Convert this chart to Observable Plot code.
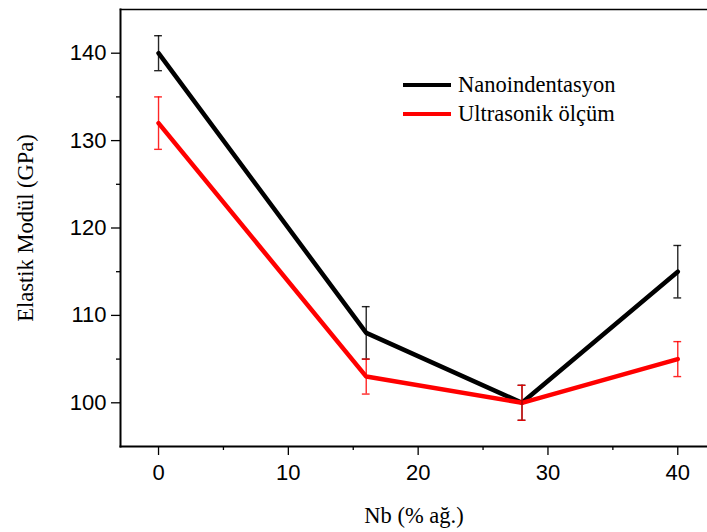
<!DOCTYPE html>
<html>
<head>
<meta charset="utf-8">
<script src="https://cdn.jsdelivr.net/npm/d3@7"></script>
<script src="https://cdn.jsdelivr.net/npm/@observablehq/plot@0.6"></script>
<style>
  body { margin: 0; background: #fff; }
  #wrap { position: relative; width: 707px; height: 532px; }
  #legend { position: absolute; left: 403px; top: 70px; font-family: "Liberation Serif", serif; font-size: 22.5px; color: #000; }
  .item { display: flex; align-items: center; height: 29px; }
  .sw { width: 48px; height: 0; border-top: 4.5px solid; margin-right: 7px; }
</style>
</head>
<body>
<div id="wrap"></div>
<script>
const nb = [0, 16, 28, 40];
const nanoValues = [140, 108, 100, 115];
const nanoErr = [2, 3, 2, 3];
const ultraValues = [132, 103, 100, 105];
const ultraErr = [3, 2, 2, 2];
const seriesNames = ["Nanoindentasyon", "Ultrasonik ölçüm"];
const seriesColors = ["#000000", "#ff0000"];
const xMajorTicks = [0, 10, 20, 30, 40];
const xMinorTicks = [5, 15, 25, 35];
const yMajorTicks = [100, 110, 120, 130, 140];
const yMinorTicks = [105, 115, 125, 135];

const data = [];
[[nanoValues, nanoErr], [ultraValues, ultraErr]].forEach(([vals, errs], s) => {
  nb.forEach((x, i) => data.push({series: seriesNames[s], x, y: vals[i], lo: vals[i] - errs[i], hi: vals[i] + errs[i]}));
});
const capHalf = 0.3;

const sans = "Liberation Sans, Arial, sans-serif";
const serif = "Liberation Serif, Times New Roman, serif";

const chart = Plot.plot({
  width: 707,
  height: 532,
  marginLeft: 120,
  marginRight: 0,
  marginTop: 9,
  marginBottom: 86,
  style: {fontFamily: sans, fontSize: "22px", color: "#000", background: "transparent"},
  x: {domain: [-2.93, 42.29]},
  y: {domain: [95, 145]},
  color: {domain: seriesNames, range: seriesColors},
  marks: [
    Plot.frame({anchor: "top", stroke: "#000", strokeWidth: 1.5}),
    Plot.frame({anchor: "left", stroke: "#000", strokeWidth: 2}),
    Plot.frame({anchor: "bottom", stroke: "#000", strokeWidth: 2}),
    Plot.axisY({ticks: yMajorTicks, tickSize: 9, tickPadding: 5, label: null, fontSize: 22, tickFormat: d => d, strokeWidth: 1.3}),
    Plot.axisY({ticks: yMinorTicks, tickSize: 4, text: null, label: null, strokeWidth: 1.3}),
    Plot.axisX({ticks: xMajorTicks, tickSize: 9, tickPadding: 9, label: null, fontSize: 22, strokeWidth: 1.3}),
    Plot.axisX({ticks: xMinorTicks, tickSize: 4, text: null, label: null, strokeWidth: 1.3}),
    Plot.line(data, {x: "x", y: "y", z: "series", stroke: "series", strokeWidth: 4.5, strokeLinejoin: "miter"}),
    Plot.ruleX(data, {x: "x", y1: "lo", y2: "hi", stroke: "series", strokeWidth: 1.4, strokeOpacity: 0.85}),
    Plot.ruleY(data, {y: "lo", x1: d => d.x - capHalf, x2: d => d.x + capHalf, stroke: "series", strokeWidth: 1.4, strokeOpacity: 0.85}),
    Plot.ruleY(data, {y: "hi", x1: d => d.x - capHalf, x2: d => d.x + capHalf, stroke: "series", strokeWidth: 1.4, strokeOpacity: 0.85}),
    Plot.text(["Elastik Modül (GPa)"], {frameAnchor: "left", dx: -95, rotate: -90, textAnchor: "middle", lineAnchor: "middle", fontFamily: serif, fontSize: 22.5, fill: "#000"}),
    Plot.text(["Nb (% ağ.)"], {frameAnchor: "bottom", dy: 69, textAnchor: "middle", lineAnchor: "middle", fontFamily: serif, fontSize: 22.5, fill: "#000"})
  ]
});

const wrap = document.getElementById("wrap");
wrap.appendChild(chart);
const legend = document.createElement("div");
legend.id = "legend";
seriesNames.forEach((name, i) => {
  const item = document.createElement("div");
  item.className = "item";
  const sw = document.createElement("span");
  sw.className = "sw";
  sw.style.borderTopColor = seriesColors[i];
  const t = document.createElement("span");
  t.textContent = name;
  item.appendChild(sw);
  item.appendChild(t);
  legend.appendChild(item);
});
wrap.appendChild(legend);
</script>
</body>
</html>
